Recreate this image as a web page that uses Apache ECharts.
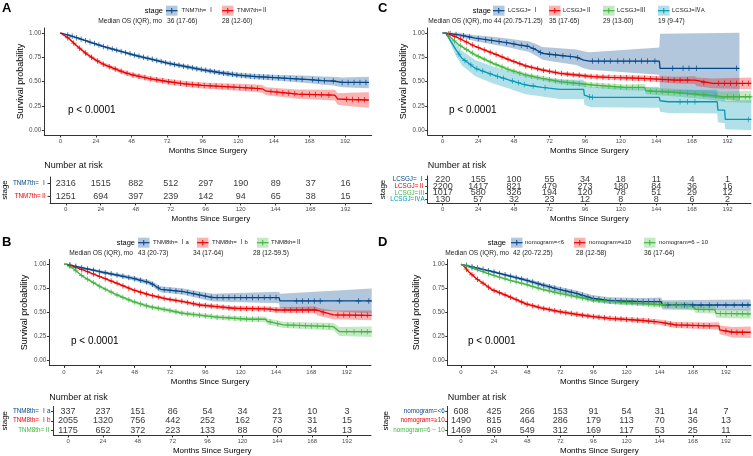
<!DOCTYPE html>
<html><head><meta charset="utf-8">
<script src="https://cdn.jsdelivr.net/npm/echarts@6/dist/echarts.min.js"></script>
<style>html,body{margin:0;padding:0;background:#fff}#c{width:753px;height:456px}</style>
</head><body><div id="c"></div>
<script>
const FONT = "'Liberation Sans', Arial, 'Noto Sans CJK SC', sans-serif";
const BLUE = '#00468B', RED = '#ED0000', GREEN = '#42B540', CYAN = '#0099B4';

const timeTicks = [0, 24, 48, 72, 96, 120, 144, 168, 192];
const survTicks = [0, 0.25, 0.5, 0.75, 1];

// ---------- Panel A ----------
const aLabels = ['TNM7th= Ⅰ', 'TNM7th=Ⅱ'];
const aMedian = ['36 (17-66)', '28 (12-60)'];
const aRisk1 = [2316, 1515, 882, 512, 297, 190, 89, 37, 16];
const aRisk2 = [1251, 694, 397, 239, 142, 94, 65, 38, 15];
const a1T = [0, 6, 12, 18, 24, 30, 36, 42, 48, 54, 60, 72, 84, 96, 108, 120, 132, 144, 156, 168, 176, 184, 190, 208];
const a1S = [1, .975, .945, .915, .885, .855, .83, .805, .78, .755, .735, .69, .655, .62, .59, .565, .55, .54, .53, .52, .51, .505, .49, .49];
const a1L = [1, .969, .937, .906, .875, .844, .818, .792, .766, .74, .719, .673, .636, .6, .568, .541, .523, .51, .497, .482, .468, .46, .44, .43];
const a1U = [1, .981, .953, .924, .895, .866, .842, .818, .794, .77, .751, .707, .674, .64, .612, .589, .577, .57, .563, .558, .552, .55, .54, .55];
const a1C = [5,8,11,14,17,20,23,26,29,32,35,38,41,44,47,50,53,56,59,62,65,68,71,74,77,80,83,86,89,92,95,98,101,104,107,110,113,116,119,122,125,128,131,134,137,140,143,147,151,155,159,163,170,174,178,184,190,194,198,202,206];
const a2T = [0, 3, 6, 9, 12, 18, 24, 30, 36, 42, 48, 54, 60, 72, 84, 96, 108, 120, 132, 136, 139, 150, 160, 185, 187, 195, 208];
const a2S = [1, .97, .94, .895, .855, .78, .72, .67, .635, .6, .57, .55, .53, .5, .475, .46, .45, .44, .43, .425, .40, .385, .37, .36, .32, .315, .31];
const a2L = [1, .96, .928, .881, .84, .763, .702, .651, .614, .578, .547, .526, .505, .473, .446, .429, .417, .404, .392, .385, .358, .341, .323, .305, .26, .245, .23];
const a2U = [1, .98, .952, .909, .87, .797, .738, .689, .656, .622, .593, .574, .555, .527, .504, .491, .483, .476, .468, .465, .442, .429, .417, .415, .38, .385, .39];
const a2C = [5,9,13,17,21,25,29,33,37,41,45,49,53,57,61,65,69,73,77,81,85,89,93,97,101,105,109,113,117,121,125,129,133,142,146,150,154,158,163,168,172,176,181,193,197,201,205];

// ---------- Panel B ----------
const bLabels = ['TNM8th= Ⅰa', 'TNM8th= Ⅰb', 'TNM8th=Ⅱ'];
const bMedian = ['43 (20-73)', '34 (17-64)', '28 (12-59.5)'];
const bRisk1 = [337, 237, 151, 86, 54, 34, 21, 10, 3];
const bRisk2 = [2055, 1320, 756, 442, 252, 162, 73, 31, 15];
const bRisk3 = [1175, 652, 372, 223, 133, 88, 60, 34, 13];
const b1T = [0, 2, 12, 24.5, 36, 47, 58, 61, 65.5, 81, 92, 101, 146, 146.7, 209];
const b1S = [1, 1, .965, .923, .889, .855, .81, .786, .741, .716, .682, .655, .655, .62, .62];
const b1L = [1, 1, .955, .908, .87, .833, .785, .76, .71, .683, .645, .615, .595, .545, .49];
const b1U = [1, 1, .975, .938, .908, .877, .835, .812, .772, .749, .719, .695, .715, .695, .75];
const b1C = [4,8,12,16,20,24,28,32,36,40,44,48,52,56,60,64,68,72,76,80,84,88,92,96,100,104,108,112,116,120,124,128,132,136,140,144,158,162,166,170,174,187,200,207];
const b2T = [0, 2, 13, 24.5, 36, 47, 58, 70, 81, 92, 104, 115, 138, 144.5, 171, 172, 183, 209];
const b2S = [1, 1, .941, .872, .803, .734, .682, .64, .613, .578, .561, .544, .537, .526, .526, .509, .475, .47];
const b2L = [1, 1, .936, .864, .793, .722, .668, .624, .595, .558, .54, .521, .511, .497, .49, .47, .43, .42];
const b2U = [1, 1, .946, .88, .813, .746, .696, .656, .631, .598, .582, .567, .563, .555, .562, .548, .52, .52];
const b2C = [4,8,12,16,20,24,28,32,36,40,44,48,52,56,60,64,68,72,76,80,84,88,92,96,100,104,108,112,116,120,124,128,132,136,140,144,150,154,158,162,166,170,176,186,190,194,198,202,206];
const b3T = [0, 2, 6, 13, 24.5, 36, 47, 58, 70, 81, 104, 126, 137, 138, 149, 183, 187, 209];
const b3S = [1, 1, .958, .872, .769, .682, .613, .561, .526, .492, .451, .43, .43, .409, .371, .353, .302, .30];
const b3L = [1, 1, .952, .862, .756, .667, .596, .542, .505, .47, .427, .403, .402, .378, .338, .315, .255, .245];
const b3U = [1, 1, .964, .882, .782, .697, .63, .58, .547, .514, .475, .457, .458, .44, .404, .391, .349, .355];
const b3C = [4,8,12,16,20,24,28,32,36,40,44,48,52,56,60,64,68,72,76,80,84,88,92,96,100,104,108,112,116,120,124,128,132,140,145,152,156,160,164,168,172,176,180,192,197,202,206];

// ---------- Panel C ----------
const cLabels = ['LCSGJ= Ⅰ', 'LCSGJ=Ⅱ', 'LCSGJ=Ⅲ', 'LCSGJ=ⅣA'];
const cMedian = ['44 (20.75-71.25)', '35 (17-65)', '29 (13-60)', '19 (9-47)'];
const cRisk1 = [220, 155, 100, 55, 34, 18, 11, 4, 1];
const cRisk2 = [2200, 1417, 821, 479, 273, 180, 84, 36, 16];
const cRisk3 = [1017, 580, 326, 194, 120, 78, 51, 29, 12];
const cRisk4 = [130, 57, 32, 23, 12, 8, 8, 6, 2];
const c1T = [0, 1, 11, 22, 34, 45, 52, 58, 63, 67, 72, 90, 95, 99, 146, 146.5, 200];
const c1S = [1, 1, .98, .945, .92, .895, .875, .86, .825, .79, .78, .75, .72, .71, .71, .635, .635];
const c1L = [1, 1, .96, .915, .88, .85, .825, .805, .765, .725, .71, .67, .635, .62, .57, .40, .30];
const c1U = [1, 1, 1, .975, .96, .94, .925, .915, .885, .855, .85, .83, .81, .80, .85, .99, 1];
const c1C = [5,9,14,18,24,29,33,38,43,48,53,57,61,66,72,76,81,86,91,101,105,109,113,118,122,126,130,134,138,143,155,162,166,171,198];
const c2T = [0, 2, 11, 22, 34, 45, 56, 67, 79, 90, 101, 112, 135, 157, 170, 171, 182, 208];
const c2S = [1, 1, .945, .86, .79, .722, .66, .619, .584, .567, .55, .543, .533, .515, .515, .498, .481, .481];
const c2L = [1, 1, .94, .852, .78, .71, .646, .603, .566, .547, .528, .518, .505, .48, .475, .455, .43, .42];
const c2U = [1, 1, .95, .868, .80, .734, .674, .635, .602, .587, .572, .568, .561, .55, .555, .54, .53, .54];
const c2C = [4,8,12,16,20,24,28,32,36,40,44,48,52,56,60,64,68,72,76,80,84,88,92,96,100,104,108,112,116,120,124,128,132,136,140,144,148,152,156,160,165,176,186,190,194,198,202,206];
const c3T = [0, 2, 11, 22, 34, 45, 56, 67, 79, 101, 123, 136, 137, 157, 179, 190, 208];
const c3S = [1, 1, .876, .773, .687, .619, .567, .533, .498, .464, .44, .44, .405, .385, .36, .343, .343];
const c3L = [1, 1, .866, .758, .67, .6, .546, .51, .474, .437, .41, .405, .37, .345, .315, .29, .28];
const c3U = [1, 1, .886, .788, .704, .638, .588, .556, .522, .491, .47, .475, .44, .425, .405, .395, .405];
const c3C = [4,8,12,16,20,24,28,32,36,40,44,48,52,56,60,64,68,72,76,80,84,88,92,96,100,104,108,112,116,120,124,128,132,140,144,148,152,156,160,165,170,176,184,192,196,200,204,207];
const c4T = [0, 2, 9, 13, 22, 34, 45, 56, 67, 79, 95, 95.5, 100, 146, 146.5, 152, 185, 185.5, 190, 190.5, 208];
const c4S = [1, 1, .825, .739, .636, .567, .515, .464, .44, .42, .42, .36, .337, .337, .302, .292, .292, .206, .206, .11, .11];
const c4L = [1, 1, .76, .665, .555, .48, .425, .37, .345, .32, .32, .26, .235, .23, .19, .175, .17, .08, .07, .01, 0];
const c4U = [1, 1, .89, .815, .72, .655, .605, .56, .535, .52, .52, .46, .44, .445, .41, .41, .415, .34, .35, .30, .31];
const c4C = [11,15,19,23,27,32,37,41,47,51,55,61,69,99,101,160,165,170,206];

// ---------- Panel D ----------
const dLabels = ['nomogram=<6', 'nomogram=≥10', 'nomogram=6 ~ 10'];
const dMedian = ['42 (20-72.25)', '28 (12-58)', '36 (17-64)'];
const dRisk1 = [608, 425, 266, 153, 91, 54, 31, 14, 7];
const dRisk2 = [1490, 815, 464, 286, 179, 113, 70, 36, 13];
const dRisk3 = [1469, 969, 549, 312, 169, 117, 53, 25, 11];
const d1T = [0, 1.2, 23, 47, 59, 71, 83, 95, 107.5, 131.6, 145, 146, 210];
const d1S = [1, 1, .923, .837, .786, .741, .70, .648, .623, .613, .613, .578, .578];
const d1L = [1, 1, .91, .818, .762, .714, .67, .615, .588, .575, .57, .53, .52];
const d1U = [1, 1, .936, .856, .81, .768, .73, .681, .658, .651, .656, .626, .636];
const d1C = [4,8,12,16,20,24,28,32,36,40,44,48,52,56,60,64,68,72,76,80,84,88,92,96,100,104,108,112,116,120,124,128,132,136,140,144,150,156,162,168,174,180,186,192,198,204,208];
const d2T = [0, 1.2, 2.2, 5.8, 10.9, 22.9, 35, 47.1, 59.2, 71.3, 83.3, 95.4, 107.5, 131.6, 143.7, 155.8, 180, 187, 187.5, 197, 210];
const d2S = [1, 1, .98, .92, .855, .734, .665, .589, .544, .509, .482, .458, .44, .417, .40, .371, .361, .361, .32, .295, .295];
const d2L = [1, 1, .975, .912, .845, .72, .65, .572, .526, .49, .462, .437, .418, .392, .372, .34, .325, .322, .275, .24, .235];
const d2U = [1, 1, .985, .928, .865, .748, .68, .606, .562, .528, .502, .479, .462, .442, .428, .402, .397, .4, .365, .35, .355];
const d2C = [4,8,12,16,20,24,28,32,36,40,44,48,52,56,60,64,68,72,76,80,84,88,92,96,100,104,108,112,116,120,124,128,132,136,140,148,152,156,160,164,168,172,176,180,192,196,200,204];
const d3T = [0, 1.2, 23, 35, 47, 59, 71, 83, 95, 120, 148.6, 168, 170, 184, 185, 210];
const d3S = [1, 1, .889, .837, .792, .741, .70, .665, .63, .603, .578, .57, .533, .53, .49, .485];
const d3L = [1, 1, .88, .826, .779, .726, .683, .646, .609, .578, .548, .535, .495, .49, .445, .435];
const d3U = [1, 1, .898, .848, .805, .756, .717, .684, .651, .628, .608, .605, .571, .57, .535, .535];
const d3C = [4,8,12,16,20,24,28,32,36,40,44,48,52,56,60,64,68,72,76,80,84,88,92,96,100,104,108,112,116,120,124,128,132,136,140,144,148,156,160,164,172,176,180,188,192,196,200,204,208];

// ---------- layout ----------
const panels = [
  { letter: 'A', lx: 2, ly: 2,
    plot: { left: 44.3, top: 28, width: 327.4, height: 107 }, table: { left: 44.3, top: 177, width: 327.4, height: 26 },
    xmin: -10.8, xmax: 209.9, yNameGap: 17, stageGap: 35, pX: 68, pY: 110, narX: 44.3, narY: 166,
    curves: [
      { T: a1T, S: a1S, L: a1L, U: a1U, C: a1C, color: BLUE },
      { T: a2T, S: a2S, L: a2L, U: a2U, C: a2C, color: RED } ],
    labels: aLabels, risk: [aRisk1, aRisk2], median: aMedian,
    leg: { stageX: 163, y: 10.7, sw: [166, 222], lab: [181.5, 237], medRight: 162, medX: [167, 222] } },
  { letter: 'B', lx: 2, ly: 236,
    plot: { left: 49.3, top: 259.5, width: 321.7, height: 106 }, table: { left: 49.3, top: 406.5, width: 321.7, height: 28.5 },
    xmin: -10, xmax: 208.5, yNameGap: 20, stageGap: 39, pX: 71, pY: 341.7, narX: 49.3, narY: 397.7,
    curves: [
      { T: b1T, S: b1S, L: b1L, U: b1U, C: b1C, color: BLUE },
      { T: b2T, S: b2S, L: b2L, U: b2U, C: b2C, color: RED },
      { T: b3T, S: b3S, L: b3L, U: b3U, C: b3C, color: GREEN } ],
    labels: bLabels, risk: [bRisk1, bRisk2, bRisk3], median: bMedian,
    leg: { stageX: 135, y: 242.7, sw: [138, 197, 257], lab: [153, 212, 271], medRight: 133, medX: [138, 193, 253] } },
  { letter: 'C', lx: 378, ly: 2,
    plot: { left: 427.7, top: 28, width: 323.3, height: 107 }, table: { left: 427.7, top: 176, width: 323.3, height: 27 },
    xmin: -10.1, xmax: 207.8, yNameGap: 20, stageGap: 39, pX: 449, pY: 110, narX: 427.7, narY: 166,
    curves: [
      { T: c1T, S: c1S, L: c1L, U: c1U, C: c1C, color: BLUE },
      { T: c2T, S: c2S, L: c2L, U: c2U, C: c2C, color: RED },
      { T: c3T, S: c3S, L: c3L, U: c3U, C: c3C, color: GREEN },
      { T: c4T, S: c4S, L: c4L, U: c4U, C: c4C, color: CYAN } ],
    labels: cLabels, risk: [cRisk1, cRisk2, cRisk3, cRisk4], median: cMedian,
    leg: { stageX: 491, y: 10.7, sw: [493, 549, 603, 658], lab: [508, 563, 617, 672], medRight: 492, medX: [494, 549, 603, 658] } },
  { letter: 'D', lx: 378, ly: 236,
    plot: { left: 447.7, top: 259.5, width: 303.3, height: 106 }, table: { left: 447.7, top: 406.5, width: 303.3, height: 28.5 },
    xmin: -9.6, xmax: 210.2, yNameGap: 27, stageGap: 58, pX: 468, pY: 341.7, narX: 447.7, narY: 397.7,
    curves: [
      { T: d1T, S: d1S, L: d1L, U: d1U, C: d1C, color: BLUE },
      { T: d2T, S: d2S, L: d2L, U: d2U, C: d2C, color: RED },
      { T: d3T, S: d3S, L: d3L, U: d3U, C: d3C, color: GREEN } ],
    labels: dLabels, risk: [dRisk1, dRisk2, dRisk3], median: dMedian,
    leg: { stageX: 506, y: 242.7, sw: [511, 574, 644], lab: [525, 589, 659], medRight: 509, medX: [513, 576, 644] } }
];

function rgba(hex, a) {
  const n = parseInt(hex.slice(1), 16);
  return 'rgba(' + ((n >> 16) & 255) + ',' + ((n >> 8) & 255) + ',' + (n & 255) + ',' + a + ')';
}
function interp(T, S, t) {
  for (let k = 0; k < T.length - 1; k++) {
    if (t >= T[k] && t <= T[k + 1] && T[k + 1] > T[k]) return S[k] + (S[k + 1] - S[k]) * (t - T[k]) / (T[k + 1] - T[k]);
  }
  return S[S.length - 1];
}
const CROSS = 'path://M0,4.2H10V5.8H0Z M4.2,0H5.8V10H4.2Z';
const AX = '#333', LBL = '#4D4D4D';

const grids = [], xAxes = [], yAxes = [], series = [], graphics = [];

function xAxisCfg(gi, p) {
  return { type: 'value', gridIndex: gi, min: p.xmin, max: p.xmax,
    axisLine: { show: true, onZero: false, lineStyle: { color: AX, width: 1 } },
    axisTick: { show: true, customValues: timeTicks, length: 2.5, lineStyle: { color: AX } },
    axisLabel: { customValues: timeTicks, fontSize: 6, color: LBL, margin: 3.5, fontFamily: FONT },
    splitLine: { show: false },
    name: 'Months Since Surgery', nameLocation: 'middle', nameGap: 12,
    nameTextStyle: { fontSize: 8, color: '#000', fontFamily: FONT } };
}

panels.forEach((p, i) => {
  const gp = 2 * i, gt = 2 * i + 1;
  grids.push(Object.assign({ containLabel: false }, p.plot));
  grids.push(Object.assign({ containLabel: false }, p.table));
  xAxes.push(xAxisCfg(gp, p));
  xAxes.push(xAxisCfg(gt, p));
  yAxes.push({ type: 'value', gridIndex: gp, min: -0.05, max: 1.05,
    axisLine: { show: true, onZero: false, lineStyle: { color: AX, width: 1 } },
    axisTick: { show: true, customValues: survTicks, length: 2.5, lineStyle: { color: AX } },
    axisLabel: { customValues: survTicks, formatter: v => v.toFixed(2), fontSize: 6.3, color: LBL, margin: 3, fontFamily: FONT },
    splitLine: { show: false },
    name: 'Survival probability', nameLocation: 'middle', nameGap: p.yNameGap,
    nameTextStyle: { fontSize: 9, color: '#000', fontFamily: FONT } });
  const rowColors = p.curves.map(c => c.color);
  yAxes.push({ type: 'category', gridIndex: gt, data: p.labels, inverse: true,
    axisLine: { show: true, onZero: false, lineStyle: { color: AX, width: 1 } },
    axisTick: { show: true, interval: 0, alignWithLabel: true, length: 2.5, lineStyle: { color: AX } },
    axisLabel: { interval: 0, hideOverlap: false, fontSize: 6.3, margin: 3, fontFamily: FONT, color: (v, idx) => rowColors[idx] },
    splitLine: { show: false },
    name: 'stage', nameLocation: 'middle', nameGap: p.stageGap,
    nameTextStyle: { fontSize: 8, color: '#000', fontFamily: FONT } });

  p.curves.forEach(c => {
    series.push({ type: 'custom', xAxisIndex: gp, yAxisIndex: gp, silent: true, z: 1, data: [[0, 0]],
      renderItem: (params, api) => {
        const pts = [];
        c.T.forEach((t, k) => pts.push(api.coord([t, c.U[k]])));
        for (let k = c.T.length - 1; k >= 0; k--) pts.push(api.coord([c.T[k], c.L[k]]));
        return { type: 'polygon', shape: { points: pts }, style: { fill: rgba(c.color, 0.3) } };
      } });
  });
  p.curves.forEach(c => {
    series.push({ type: 'line', xAxisIndex: gp, yAxisIndex: gp, silent: true, z: 3,
      data: c.T.map((t, k) => [t, c.S[k]]), showSymbol: false, symbol: 'none',
      lineStyle: { color: c.color, width: 1.3 }, itemStyle: { color: c.color } });
  });
  p.curves.forEach(c => {
    series.push({ type: 'scatter', xAxisIndex: gp, yAxisIndex: gp, silent: true, z: 4,
      data: c.C.map(t => [t, interp(c.T, c.S, t)]), symbol: CROSS, symbolSize: 5.5,
      itemStyle: { color: c.color } });
  });
  const tdata = [];
  p.risk.forEach((row, r) => row.forEach((v, j) => tdata.push([timeTicks[j], r, v])));
  series.push({ type: 'scatter', xAxisIndex: gt, yAxisIndex: gt, silent: true, z: 5, data: tdata,
    symbolSize: 1, itemStyle: { color: 'rgba(0,0,0,0)' },
    label: { show: true, position: 'inside', formatter: q => String(q.value[2]), fontSize: 9, color: '#000', fontFamily: FONT } });

  // texts
  graphics.push({ type: 'text', x: p.lx, y: p.ly, style: { text: p.letter, font: 'bold 13px ' + FONT, fill: '#000', align: 'left', verticalAlign: 'top' } });
  graphics.push({ type: 'text', x: p.pX, y: p.pY, style: { text: 'p < 0.0001', font: '10px ' + FONT, fill: '#000', align: 'left', verticalAlign: 'middle' } });
  graphics.push({ type: 'text', x: p.narX, y: p.narY, style: { text: 'Number at risk', font: '9px ' + FONT, fill: '#111', align: 'left', verticalAlign: 'middle' } });
  const L = p.leg;
  graphics.push({ type: 'text', x: L.stageX, y: L.y, style: { text: 'stage', font: '7.5px ' + FONT, fill: '#000', align: 'right', verticalAlign: 'middle' } });
  p.curves.forEach((c, k) => {
    const sx = L.sw[k];
    graphics.push({ type: 'rect', shape: { x: sx, y: L.y - 5, width: 11.5, height: 10 }, style: { fill: rgba(c.color, 0.3) } });
    graphics.push({ type: 'line', shape: { x1: sx, y1: L.y, x2: sx + 11.5, y2: L.y }, style: { stroke: c.color, lineWidth: 1.2 } });
    graphics.push({ type: 'line', shape: { x1: sx + 5.75, y1: L.y - 2.7, x2: sx + 5.75, y2: L.y + 2.7 }, style: { stroke: c.color, lineWidth: 1 } });
    graphics.push({ type: 'text', x: L.lab[k], y: L.y, style: { text: p.labels[k], font: '6px ' + FONT, fill: '#222', align: 'left', verticalAlign: 'middle' } });
    graphics.push({ type: 'text', x: L.medX[k], y: L.y + 10.5, style: { text: p.median[k], font: '6.6px ' + FONT, fill: '#222', align: 'left', verticalAlign: 'middle' } });
  });
  graphics.push({ type: 'text', x: L.medRight, y: L.y + 10.5, style: { text: 'Median OS (IQR), mo', font: '6.6px ' + FONT, fill: '#222', align: 'right', verticalAlign: 'middle' } });
});

const chart = echarts.init(document.getElementById('c'), null, { renderer: 'canvas' });
chart.setOption({
  animation: false,
  backgroundColor: '#fff',
  textStyle: { fontFamily: FONT },
  grid: grids, xAxis: xAxes, yAxis: yAxes, series: series, graphic: graphics
});
</script></body></html>
